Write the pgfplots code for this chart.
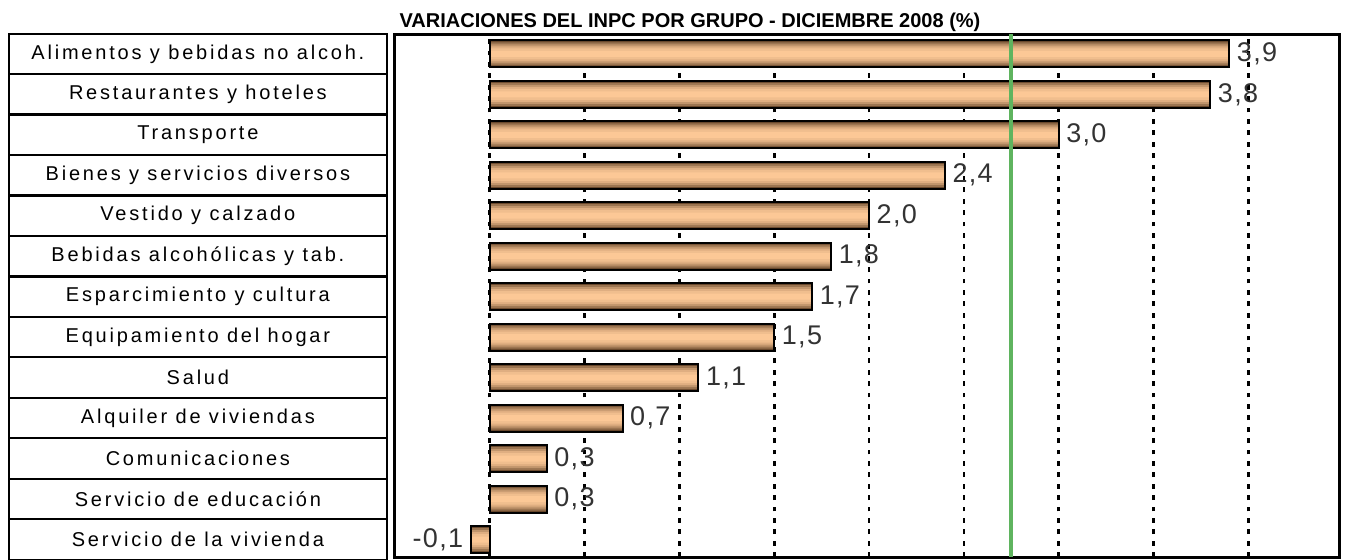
\documentclass[border=0pt]{standalone}
\usepackage{fontspec}
\setmainfont{Liberation Sans}
\newfontfamily\labfont[LetterSpace=14]{Liberation Sans}
\newfontfamily\valfont[LetterSpace=5]{Liberation Sans}
\usepackage{pgfplots}
\usepackage{pgfplotstable}
\pgfplotsset{compat=1.18}
\definecolor{barpeach}{RGB}{252,200,150}
\definecolor{bardark}{RGB}{105,72,44}
\definecolor{avggreen}{RGB}{95,180,95}
\pgfplotstableread{
val pos
-0.1 1
0.3 2
0.3 3
0.7 4
1.1 5
1.5 6
1.7 7
1.8 8
2.0 9
2.4 10
3.0 11
3.8 12
3.9 13
}\inpc
\begin{document}
\begin{tikzpicture}
\useasboundingbox (-197.5pt,-1pt) rectangle (477.5pt,278.5pt);
\begin{axis}[
  scale only axis, width=472.5pt, height=261.5pt,
  xmin=-0.5, xmax=4.484, ymin=0.568, ymax=13.49,
  xbar, bar shift=0pt,
  xtick={0,0.5,...,4}, xticklabels={},
  xmajorgrids, grid style={black, line width=1.3pt, dash pattern=on 2.4pt off 3.3pt},
  major tick length=0pt, tick style={draw=none},
  ytick={1,...,13},
  yticklabels={Servicio de la vivienda, Servicio de educación, Comunicaciones, Alquiler de viviendas, Salud, Equipamiento del hogar, Esparcimiento y cultura, Bebidas alcohólicas y tab., Vestido y calzado, Bienes y servicios diversos, Transporte, Restaurantes y hoteles, Alimentos y bebidas no alcoh.},
  yticklabel style={font=\labfont\fontsize{10pt}{11pt}\selectfont, draw=black, line width=1.1pt, anchor=east, inner sep=0pt, xshift=-3.5pt, minimum width=189pt, minimum height=20.235pt, align=center, text=black},
  axis line style={line width=1.5pt},
  /pgf/number format/.cd, fixed, fixed zerofill, precision=1, use comma, assume math mode=true
]
\addplot[forget plot, bar shift=0pt, draw=none, fill=bardark, bar width=13.5pt] table[x=val, y=pos] {\inpc};
\addplot[forget plot, bar shift=0pt, draw=none, fill=bardark!65!barpeach, bar width=11.5pt] table[x=val, y=pos] {\inpc};
\addplot[forget plot, bar shift=0pt, draw=none, fill=bardark!40!barpeach, bar width=9.5pt] table[x=val, y=pos] {\inpc};
\addplot[forget plot, bar shift=0pt, draw=none, fill=bardark!20!barpeach, bar width=7.5pt] table[x=val, y=pos] {\inpc};
\addplot[forget plot, bar shift=0pt, draw=none, fill=bardark!8!barpeach, bar width=5.5pt] table[x=val, y=pos] {\inpc};
\addplot[forget plot, bar shift=0pt, draw=none, fill=barpeach, bar width=3pt] table[x=val, y=pos] {\inpc};
\addplot[forget plot, bar shift=0pt, draw=black, fill=none, line width=1pt, bar width=13.5pt,
  nodes near coords,
  every node near coord/.append style={font=\valfont\fontsize{13.5pt}{15pt}\selectfont, text=black!80}]
  table[x=val, y=pos] {\inpc};
\addplot[sharp plot, avggreen, line width=2pt, forget plot] coordinates {(2.75,0.568) (2.75,13.49)};
\end{axis}
\node[anchor=base, font=\bfseries\fontsize{10pt}{12pt}\selectfont, inner sep=0pt] at (147.5pt,264.85pt) {VARIACIONES DEL INPC POR GRUPO - DICIEMBRE 2008 (\%)};
\end{tikzpicture}
\end{document}
